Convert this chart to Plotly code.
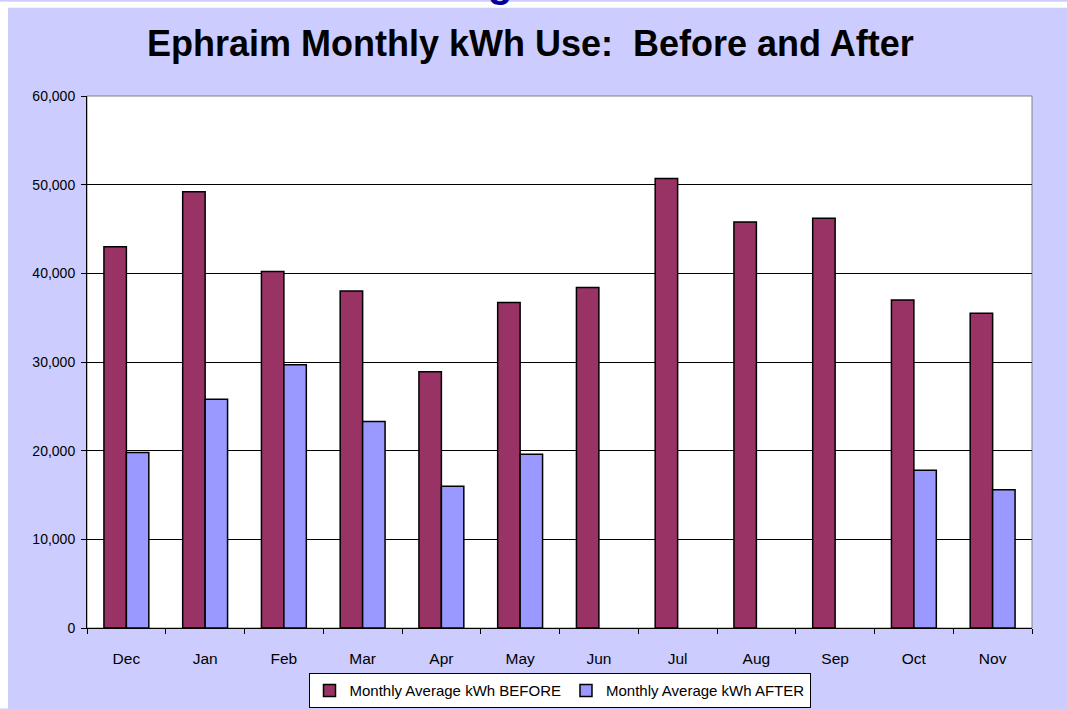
import plotly.graph_objects as go

months = ["Dec", "Jan", "Feb", "Mar", "Apr", "May", "Jun", "Jul", "Aug", "Sep", "Oct", "Nov"]
before_kwh = [43000, 49200, 40200, 38000, 28900, 36700, 38400, 50700, 45800, 46200, 37000, 35500]
after_kwh = [19800, 25800, 29700, 23300, 16000, 19600, None, None, None, None, 17800, 15600]
y_ticks = [0, 10000, 20000, 30000, 40000, 50000, 60000]
series_names = ["Monthly Average kWh BEFORE", "Monthly Average kWh AFTER"]
title_text = "<b>Ephraim Monthly kWh Use:\u00a0 Before and After</b>"

W, H = 1067, 720
L, R, T, B = 87, 35, 96, 82
PW, PH = W - L - R, H - T - B


def px_x(p):
    return (p - L) / PW


def px_y(p):
    return (H - B - p) / PH


FONT = "Liberation Sans, Arial, sans-serif"

fig = go.Figure()
fig.add_trace(go.Bar(x=months, y=before_kwh, name=series_names[0],
                     marker=dict(color="#993366", line=dict(color="black", width=1.5))))
fig.add_trace(go.Bar(x=months, y=after_kwh, name=series_names[1],
                     marker=dict(color="#9999FF", line=dict(color="black", width=1.5))))

shapes = [
    dict(type="rect", xref="paper", yref="paper", x0=px_x(0), x1=px_x(8), y0=px_y(H), y1=px_y(0),
         fillcolor="white", line=dict(width=0), layer="below"),
    dict(type="rect", xref="paper", yref="paper", x0=px_x(0), x1=px_x(W), y0=px_y(6), y1=px_y(0),
         fillcolor="white", line=dict(width=0), layer="below"),
    dict(type="rect", xref="paper", yref="paper", x0=0, x1=1, y0=0, y1=1,
         fillcolor="rgba(0,0,0,0)", line=dict(color="#808080", width=1), layer="below"),
]

fig.update_layout(
    width=W, height=H,
    margin=dict(l=L, r=R, t=T, b=B, pad=0),
    paper_bgcolor="#CCCCFF",
    plot_bgcolor="white",
    barmode="group",
    bargap=0.43,
    bargroupgap=0,
    font=dict(family=FONT, color="black"),
    title=dict(text=title_text, x=0.497, xref="container", xanchor="center",
               y=1 - 43 / H, yref="container", yanchor="middle",
               font=dict(family=FONT, size=36, color="black")),
    xaxis=dict(type="category", showline=True, linecolor="black", linewidth=1,
               ticks="outside", tickson="boundaries", ticklen=5, tickcolor="black",
               tickfont=dict(size=15.5), ticklabelstandoff=16, showgrid=False),
    yaxis=dict(range=[0, 60000], tickvals=y_ticks, tickformat=",", showline=True,
               linecolor="black", linewidth=1, ticks="outside", ticklen=5, tickcolor="black",
               tickfont=dict(size=14), ticklabelstandoff=3,
               showgrid=True, gridcolor="black", gridwidth=1, zeroline=False),
    legend=dict(orientation="h", x=0.5, xanchor="center", y=px_y(684), yanchor="top",
                bgcolor="white", bordercolor="black", borderwidth=1,
                font=dict(size=15, family=FONT), itemwidth=30, tracegroupgap=0),
    shapes=shapes,
    annotations=[dict(text="<b>g</b>", xref="paper", yref="paper", x=px_x(500), y=px_y(-19),
                      xanchor="center", yanchor="middle", showarrow=False,
                      font=dict(size=40, color="#000099", family=FONT))],
    showlegend=True,
)

fig.write_html(
    "out.html",
    config={"displayModeBar": False},
    post_script="document.body.style.margin='0';document.body.style.overflow='hidden';"
                "document.documentElement.style.overflow='hidden';",
)
